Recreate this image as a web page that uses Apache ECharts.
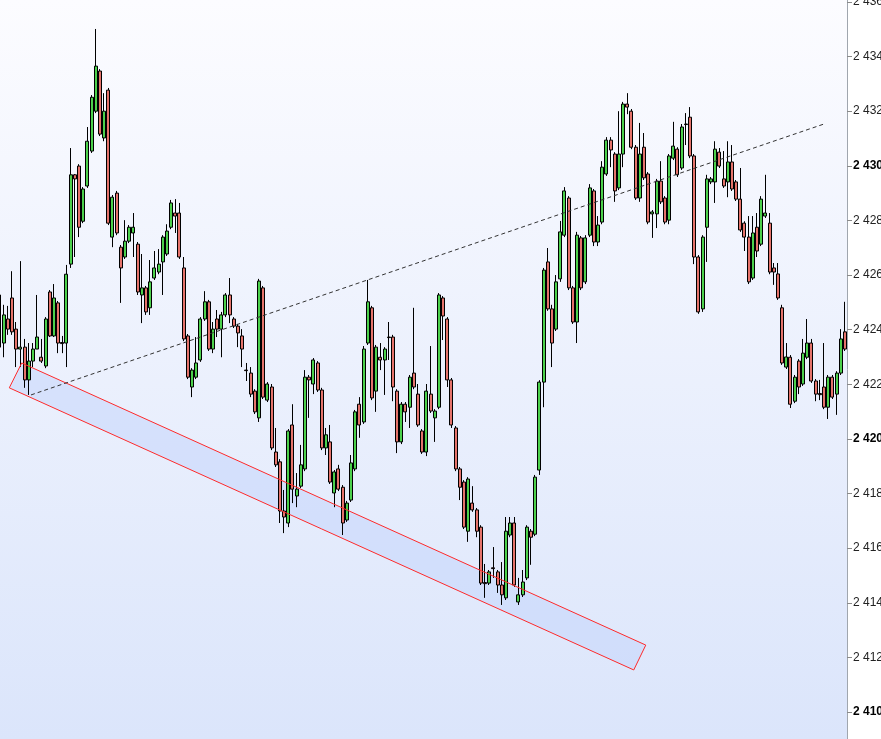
<!DOCTYPE html>
<html>
<head>
<meta charset="utf-8">
<script src="https://cdn.jsdelivr.net/npm/echarts@6/dist/echarts.min.js"></script>
<style>
html,body{margin:0;padding:0;background:#fff;}
#chart{width:881px;height:739px;}
</style>
</head>
<body>
<div id="chart"></div>
<script>
const opens = [2425.27,2423.51,2424.39,2425.16,2424.02,2423.29,2423.36,2422.16,2422.85,2423.29,2422.99,2422.67,2425.38,2423.77,2424.98,2423.53,2423.51,2426.40,2429.67,2429.99,
2427.97,2429.26,2430.54,2432.00,2433.47,2431.02,2432.77,2427.39,2429.00,2427.02,2426.66,2427.24,2427.54,2427.13,2425.27,2425.53,2424.80,2425.89,2426.11,2426.48,
2426.77,2427.75,2428.27,2428.27,2426.26,2423.77,2421.90,2422.26,2422.89,2424.39,2425.02,2423.29,2424.39,2424.02,2424.54,2425.27,2424.39,2424.13,2423.77,2422.52,
2422.41,2421.75,2420.77,2425.53,2421.42,2421.90,2419.52,2419.16,2417.36,2416.92,2420.51,2417.91,2418.27,2418.90,2422.26,2422.01,2422.78,2421.79,2419.67,2419.89,
2418.02,2418.90,2418.23,2417.03,2417.76,2418.90,2421.27,2420.62,2423.51,2424.80,2421.75,2422.99,2422.89,2423.73,2423.73,2421.75,2419.89,2421.27,2421.16,2422.41,
2421.64,2420.29,2419.52,2421.64,2420.77,2421.16,2425.16,2424.39,2422.16,2420.40,2418.90,2418.42,2416.62,2417.65,2417.40,2416.77,2414.74,2414.72,2415.28,2415.13,
2414.65,2414.18,2416.48,2416.92,2414.03,2414.29,2414.91,2416.62,2416.51,2418.86,2422.08,2426.48,2424.76,2424.02,2425.86,2427.46,2428.82,2425.53,2424.28,2427.36,
2425.75,2427.46,2429.08,2427.21,2427.94,2429.70,2430.94,2430.43,2429.19,2430.43,2432.26,2432.00,2430.68,2428.82,2430.68,2429.70,2428.24,2428.24,2429.44,2428.82,
2428.01,2430.28,2430.61,2429.92,2431.53,2431.78,2430.36,2426.66,2424.76,2427.75,2429.41,2429.41,2430.50,2429.52,2429.41,2430.14,2429.41,2428.78,2427.90,2427.39,
2425.89,2427.75,2427.13,2428.16,2427.90,2426.26,2426.04,2424.80,2422.63,2422.99,2421.38,2422.85,2422.01,2422.99,2423.51,2422.12,2421.66,2421.90,2421.16,2422.26,
2421.64,2422.41,2423.92];
const closes = [2423.36,2424.54,2424.02,2423.92,2423.29,2423.36,2422.16,2422.85,2423.29,2423.73,2422.85,2424.39,2423.77,2425.16,2423.51,2423.49,2426.03,2429.67,2429.52,2427.75,
2429.15,2430.90,2432.51,2433.65,2431.16,2432.00,2427.90,2428.85,2427.54,2426.26,2427.24,2427.75,2427.75,2425.38,2425.53,2424.65,2425.75,2426.26,2426.40,2427.39,
2427.61,2428.64,2428.16,2426.66,2423.66,2422.26,2422.52,2422.78,2424.39,2425.02,2423.29,2424.02,2424.02,2424.54,2425.27,2424.54,2424.13,2423.88,2423.29,2422.50,
2421.64,2420.99,2425.78,2421.53,2422.01,2419.67,2419.05,2417.36,2417.14,2420.29,2418.16,2418.16,2419.05,2422.26,2422.16,2422.89,2421.79,2419.67,2420.15,2418.42,
2418.79,2418.16,2416.92,2417.65,2419.12,2420.99,2420.51,2423.29,2425.02,2421.50,2423.36,2422.89,2423.29,2423.71,2421.90,2419.89,2421.27,2420.99,2422.26,2421.90,
2420.51,2419.52,2421.75,2421.02,2421.02,2425.27,2424.50,2422.16,2420.51,2418.90,2418.23,2416.77,2418.53,2417.40,2416.62,2414.72,2414.70,2415.13,2415.25,2414.65,
2414.29,2416.62,2416.92,2414.65,2414.29,2414.76,2416.77,2416.40,2418.60,2422.08,2426.18,2424.76,2423.51,2425.75,2427.58,2429.08,2425.53,2424.28,2427.46,2425.53,
2427.36,2429.19,2427.21,2427.83,2429.95,2430.94,2430.58,2429.08,2430.43,2432.26,2432.15,2430.68,2428.82,2430.43,2429.56,2427.94,2428.31,2429.44,2428.68,2427.94,
2430.36,2430.72,2429.67,2431.42,2431.51,2430.36,2426.66,2424.65,2427.39,2429.52,2429.52,2430.61,2429.99,2429.26,2430.14,2429.15,2428.78,2427.65,2427.39,2425.75,
2427.54,2426.88,2428.78,2428.27,2426.11,2426.11,2425.16,2422.78,2423.00,2421.27,2422.26,2421.90,2423.14,2423.51,2422.12,2421.64,2421.62,2421.16,2422.26,2421.53,
2422.41,2423.66,2423.29];
const lows = [2423.18,2422.99,2423.81,2423.81,2422.63,2422.63,2421.87,2421.61,2422.63,2423.29,2422.78,2422.59,2423.73,2423.73,2423.14,2423.14,2422.63,2426.26,2426.66,2427.39,
2427.90,2429.19,2430.47,2431.93,2431.09,2430.90,2427.83,2427.02,2427.46,2424.98,2426.59,2427.17,2426.66,2425.27,2424.24,2424.54,2424.54,2425.82,2426.03,2425.27,
2426.70,2427.68,2427.54,2426.59,2423.58,2422.19,2421.53,2422.19,2422.82,2424.32,2423.22,2423.14,2423.73,2422.99,2424.46,2424.24,2424.06,2423.36,2422.63,2422.12,
2421.53,2420.91,2420.62,2421.46,2421.35,2419.59,2418.97,2416.92,2416.55,2416.77,2417.65,2417.50,2418.20,2418.82,2420.77,2421.64,2421.72,2419.59,2419.41,2418.35,
2417.50,2418.09,2416.48,2416.96,2417.69,2418.82,2420.04,2420.55,2423.44,2421.42,2420.99,2422.52,2421.61,2422.89,2421.38,2419.48,2419.81,2420.62,2420.40,2421.82,
2420.44,2419.45,2419.37,2420.95,2419.89,2421.09,2423.62,2421.90,2420.40,2418.82,2417.76,2416.70,2416.23,2417.33,2416.40,2414.65,2414.18,2414.65,2414.91,2414.36,
2413.92,2414.10,2416.40,2414.58,2413.92,2414.21,2414.83,2415.39,2416.44,2418.68,2421.16,2424.69,2422.63,2423.95,2425.75,2427.39,2425.45,2424.21,2423.51,2425.45,
2425.67,2427.39,2427.06,2427.06,2427.86,2429.63,2429.95,2428.68,2429.11,2429.95,2431.89,2430.61,2428.75,2428.68,2429.48,2427.86,2427.36,2427.72,2428.60,2427.86,
2427.86,2430.21,2429.59,2429.85,2430.76,2430.28,2426.40,2424.58,2424.65,2426.48,2429.33,2428.64,2429.92,2429.19,2428.85,2429.08,2428.71,2427.58,2426.88,2425.67,
2425.82,2426.66,2427.06,2428.09,2426.03,2425.64,2425.09,2422.71,2422.56,2421.13,2421.31,2421.64,2421.94,2422.92,2422.05,2421.38,2421.42,2421.09,2420.73,2421.46,
2420.88,2422.34,2423.22];
const highs = [2425.38,2424.91,2424.87,2426.14,2424.28,2426.51,2423.66,2423.51,2423.51,2425.27,2423.66,2424.46,2425.45,2425.67,2425.05,2423.77,2426.37,2430.65,2429.70,2430.06,
2429.22,2431.42,2432.59,2435.01,2433.54,2432.66,2432.85,2428.93,2429.08,2427.10,2428.01,2427.83,2428.27,2427.21,2426.77,2425.60,2426.55,2426.88,2426.95,2427.46,
2427.86,2428.75,2428.78,2428.64,2426.66,2423.84,2422.59,2423.73,2424.46,2425.41,2425.09,2424.28,2424.72,2424.65,2425.34,2425.89,2424.46,2424.21,2424.02,2422.78,
2422.63,2421.82,2425.86,2425.60,2422.08,2422.01,2420.40,2419.26,2418.13,2420.36,2421.27,2418.75,2419.78,2422.52,2422.34,2422.96,2422.85,2421.87,2420.40,2420.51,
2418.86,2419.05,2418.31,2417.73,2419.41,2421.06,2421.53,2423.40,2425.82,2424.87,2423.44,2423.51,2423.36,2424.28,2423.81,2421.82,2421.35,2421.35,2422.34,2424.80,
2422.01,2420.36,2422.01,2423.40,2421.09,2425.34,2425.23,2424.46,2422.23,2420.47,2418.97,2418.49,2418.60,2418.27,2417.47,2416.84,2415.42,2415.20,2416.04,2415.20,
2415.49,2417.14,2417.14,2417.14,2414.91,2415.20,2416.84,2416.70,2418.68,2422.15,2426.26,2426.99,2424.91,2426.00,2427.98,2429.22,2428.89,2425.60,2427.58,2427.43,
2427.46,2429.33,2429.15,2428.16,2430.17,2431.05,2431.05,2430.50,2432.00,2432.34,2432.66,2432.08,2430.76,2431.57,2431.20,2429.77,2428.38,2429.52,2430.17,2428.89,
2430.43,2431.61,2430.68,2431.53,2431.93,2432.15,2430.43,2426.73,2427.46,2429.67,2429.59,2430.90,2430.65,2430.54,2430.90,2430.76,2429.48,2429.92,2427.97,2428.16,
2428.16,2428.27,2428.89,2429.67,2428.27,2426.44,2426.44,2424.91,2423.51,2423.07,2422.34,2422.92,2423.66,2424.39,2423.66,2422.19,2422.16,2423.51,2422.34,2422.34,
2422.48,2424.02,2425.02];
const categories = opens.map((_, i) => String(i));

// overlay drawings (x in bar-index units, y in price)
const channelX = [5.31, 154.42, 151.55, 2.34];
const channelY = [2422.78, 2412.45, 2411.54, 2421.87];
const trendX = [7.53, 197.0];
const trendY = [2421.61, 2431.53];

const yTicksBold = [2410, 2420, 2430];

const candleData = opens.map((o, i) => [o, closes[i], lows[i], highs[i]]);

function fmt(v) {
  const s = String(Math.round(v)).replace(/\B(?=(\d{3})+(?!\d))/g, ' ');
  return yTicksBold.indexOf(Math.round(v)) >= 0 ? '{b|' + s + '}' : '{n|' + s + '}';
}

const chart = echarts.init(document.getElementById('chart'), null, {renderer: 'canvas'});

function polygonItem(stroke, fill) {
  return function (params, api) {
    if (params.dataIndex !== 0) return null;
    const pts = channelX.map((x, i) => api.coord([x, channelY[i]]));
    return {
      type: 'polygon',
      shape: {points: pts},
      style: {fill: fill, stroke: stroke, lineWidth: 1}
    };
  };
}

chart.setOption({
  animation: false,
  backgroundColor: '#ffffff',
  grid: {
    left: -2.6, right: 34, top: -52.68, bottom: -27.62,
    containLabel: false,
    outerBoundsMode: 'none',
    show: true, borderWidth: 0,
    backgroundColor: {
      type: 'linear', x: 0, y: 0, x2: 0, y2: 1,
      colorStops: [
        {offset: 0, color: '#ffffff'},
        {offset: 0.064, color: '#fcfcff'},
        {offset: 0.966, color: '#dbe5fb'},
        {offset: 1, color: '#d9e3fb'}
      ]
    }
  },
  xAxis: [
    {type: 'category', data: categories, show: false, boundaryGap: true},
    {type: 'value', min: -0.5, max: 202.5, show: false}
  ],
  yAxis: {
    type: 'value', position: 'right', min: 2408, max: 2438, interval: 2,
    splitLine: {show: false},
    axisLine: {show: true, onZero: false, lineStyle: {color: '#a0a6ae', width: 1}},
    axisTick: {show: true, inside: false, length: 5, lineStyle: {color: '#8a8a8a'}},
    axisLabel: {
      margin: 6,
      formatter: fmt,
      rich: {
        b: {fontFamily: 'Liberation Sans, Arial, sans-serif', fontSize: 12, fontWeight: 'bold', color: '#000'},
        n: {fontFamily: 'Liberation Sans, Arial, sans-serif', fontSize: 12, color: '#222'}
      }
    }
  },
  series: [
    {
      type: 'custom', xAxisIndex: 1, z: 1, silent: true,
      renderItem: polygonItem('none', 'rgba(196,214,252,0.55)'),
      data: [[channelX[0], channelY[0]]]
    },
    {
      type: 'candlestick', xAxisIndex: 0, z: 2,
      data: candleData,
      barWidth: 3.5,
      itemStyle: {
        color: '#4cd14c', color0: '#e5736b',
        borderColor: '#000', borderColor0: '#000', borderWidth: 1
      }
    },
    {
      type: 'custom', xAxisIndex: 1, z: 3, silent: true,
      renderItem: polygonItem('#ff2a2a', 'none'),
      data: [[channelX[0], channelY[0]]]
    },
    {
      type: 'line', xAxisIndex: 1, z: 4, symbol: 'none', silent: true,
      data: trendX.map((x, i) => [x, trendY[i]]),
      lineStyle: {color: '#333', width: 1, type: [4, 3]}
    }
  ]
});
</script>
</body>
</html>
